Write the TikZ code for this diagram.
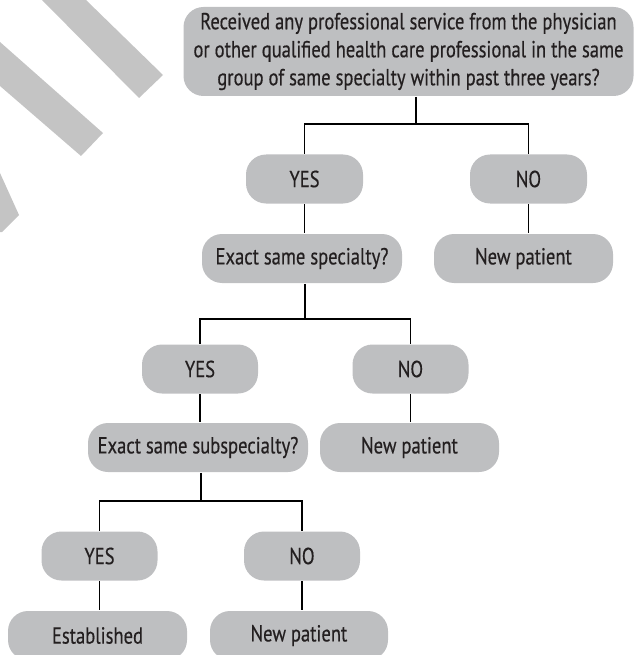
\documentclass[tikz,border=0pt]{standalone}
\usepackage{fontspec}
\setmainfont{PT Sans}[FakeStretch=0.8,FakeBold=0.4]
\definecolor{boxgray}{RGB}{190,191,193}
\definecolor{markgray}{RGB}{196,196,196}
\definecolor{ink}{RGB}{35,31,32}

\begin{document}
\begin{tikzpicture}[x=1pt, y=-1pt, line width=1.8pt, main/.style = {fill=boxgray, rounded corners=20pt, inner sep=0pt, minimum height=49pt, text=ink, align=center, font=\fontsize{23.2}{28}\selectfont}]
            \useasboundingbox (0,0) rectangle (633,655);

            \fill[markgray] (42,0) -- (139,98) -- (163,75) -- (86,0) -- cycle;
            \fill[markgray] (0,42) -- (103,133) -- (81,156) -- (0,86) -- cycle;
            \fill[markgray] (0,173) -- (19,215) -- (2,232) -- (0,232) -- cycle;

            \node[main,minimum width=450pt,minimum height=89pt] (1) at (408.5,51.5) {Received any professional service from the physician\\or other qualified health care professional in the same\\group of same specialty within past three years?};
            \node[main,minimum width=117pt] (2) at (304.5,179) {YES};
            \node[main,minimum width=117pt] (3) at (528.5,179) {NO};
            \node[main,minimum width=200pt] (4) at (302,258.5) {Exact same specialty?};
            \node[main,minimum width=179pt] (5) at (523.5,258.5) {New patient};
            \node[main,minimum width=116pt] (6) at (200,369) {YES};
            \node[main,minimum width=116pt] (7) at (410.5,369) {NO};
            \node[main,minimum width=220pt] (8) at (198,447.5) {Exact same subspecialty?};
            \node[main,minimum width=179pt] (9) at (409.5,447.5) {New patient};
            \node[main,minimum width=116pt] (10) at (99.5,556) {YES};
            \node[main,minimum width=116pt] (11) at (302,556) {NO};
            \node[main,minimum width=179pt] (12) at (97.5,635.5) {Established};
            \node[main,minimum width=178pt] (13) at (299,635.5) {New patient};

            \coordinate (b1) at (416,124);
            \coordinate (b2) at (305,319);
            \coordinate (b3) at (201,501);

            \draw (1.south -| b1) -- (b1);
            \draw (2) |- (b1) -| (3);
            \draw (2) -- (2 |- 4.north);
            \draw (3) -- (3 |- 5.north);

            \draw (4.south -| b2) -- (b2);
            \draw (6) |- (b2) -| (7);
            \draw (6) -- (6 |- 8.north);
            \draw (7) -- (7 |- 9.north);

            \draw (8.south -| b3) -- (b3);
            \draw (10) |- (b3) -| (11);
            \draw (10) -- (10 |- 12.north);
            \draw (11) -- (11 |- 13.north);
        \end{tikzpicture}
\end{document}
